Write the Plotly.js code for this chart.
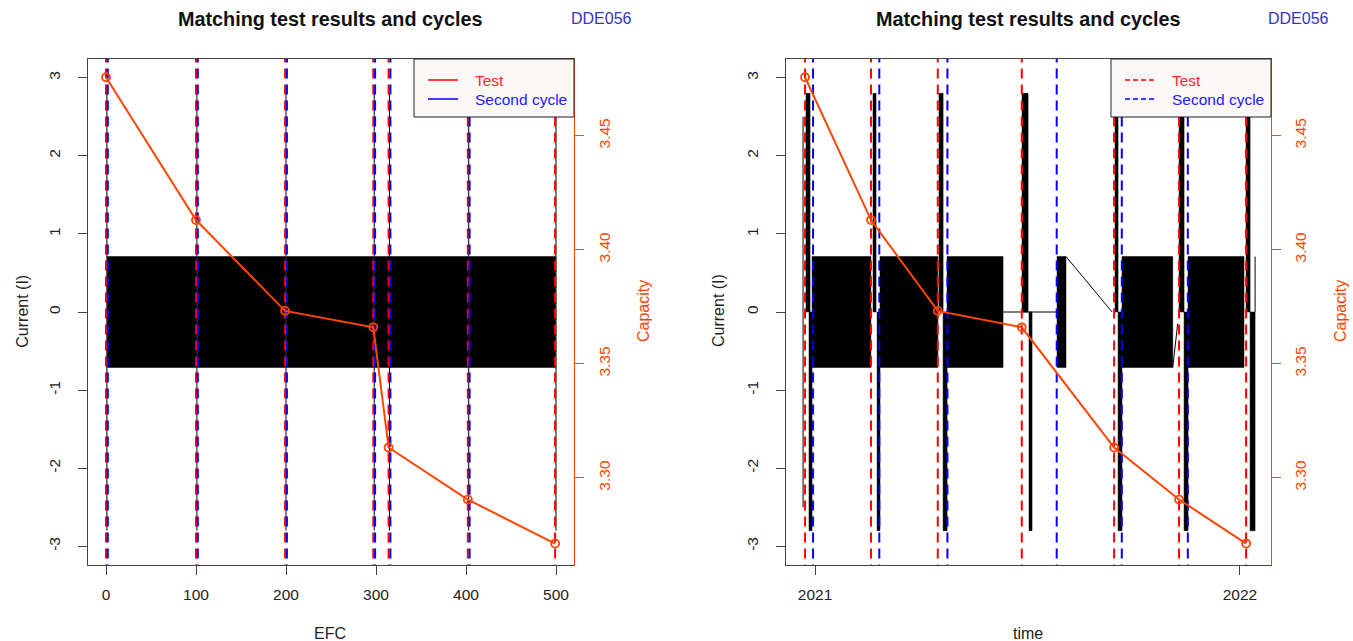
<!DOCTYPE html>
<html><head><meta charset="utf-8">
<script src="https://cdn.plot.ly/plotly-3.0.1.min.js"></script>
<style>html,body{margin:0;padding:0;background:#fff;} #chart{width:1353px;height:641px;}</style>
</head><body><div id="chart"></div>
<script>
// ---------------- data ----------------
const efcTicks = [0, 100, 200, 300, 400, 500];
const currentTicks = [-3, -2, -1, 0, 1, 2, 3];
const capTicks = [3.30, 3.35, 3.40, 3.45];
const capTickText = ['3.30', '3.35', '3.40', '3.45'];
const timeTicks = ['2021-01-01', '2022-01-01'];
const timeTickText = ['2021', '2022'];

const capacity = [3.4756, 3.4130, 3.3732, 3.3660, 3.3133, 3.2905, 3.2712];

// left panel: EFC domain
const testEFC = [0, 100, 199, 297, 314, 402, 499];
const secondEFC = [2, 102, 201, 299, 316, 404];
const pulseEFC = [1, 101, 200, 298, 315, 403, 500];
const cycleStartEFC = [1.5, 101.5, 200.5, 298.5, 315.5, 403.5];
const cycleEndEFC = [100.5, 199.5, 297.5, 314.5, 402.5, 499.5];
const cycleAmp = 0.71;
const pulseAmp = 2.8;

// right panel: time domain
const testDate = ['2020-12-23 10:00', '2021-02-18 02:00', '2021-04-16 10:00', '2021-06-27 14:00', '2021-09-14 22:00', '2021-11-09 17:00', '2022-01-06 07:00'];
const secondDate = ['2020-12-30 07:00', '2021-02-25 05:00', '2021-04-24 17:00', '2021-07-27 14:00', '2021-09-21 12:00', '2021-11-17 05:00'];
const cycleStartDate = ['2020-12-29 10:00', '2021-02-25 19:00', '2021-04-24 10:00', '2021-07-27 22:00', '2021-09-21 17:00', '2021-11-17 10:00'];
const cycleEndDate = ['2021-02-18 00:00', '2021-04-16 12:00', '2021-06-11 12:00', '2021-08-04 14:00', '2021-11-04 07:00', '2022-01-04 12:00'];
const chargeStartDate = ['2020-12-24 06:00', '2021-02-19 19:00', '2021-04-17 12:00', '2021-06-27 19:00', '2021-09-15 17:00', '2021-11-09 17:00', '2022-01-06 07:00'];
const chargeEndDate = ['2020-12-27 17:00', '2021-02-22 10:00', '2021-04-21 00:00', '2021-07-03 00:00', '2021-09-18 07:00', '2021-11-14 00:00', '2022-01-09 17:00'];
const dischargeStartDate = ['2020-12-26 20:00', '2021-02-23 07:00', '2021-04-21 00:00', '2021-07-03 19:00', '2021-09-18 07:00', '2021-11-14 00:00', '2022-01-09 17:00'];
const dischargeEndDate = ['2020-12-29 10:00', '2021-02-25 19:00', '2021-04-24 10:00', '2021-07-06 10:00', '2021-09-21 17:00', '2021-11-17 10:00', '2022-01-14 00:00'];
// thin current segments (rest periods and transitions)
const restDate = ['2021-06-11 12:00', '2021-07-27 22:00', null, '2021-08-04 14:00', '2021-09-13 05:00', null, '2020-12-21 17:00', '2020-12-21 17:00', null, '2022-01-14 00:00', '2022-01-14 00:00', null, '2021-11-04 07:00', '2021-11-08 12:00'];
const restCurrent = [0, 0, null, 0.71, 0, null, 2.5, -2.5, null, 0, 0.71, null, -0.71, -0.15];

// ---------------- helpers ----------------
const W = 1353, H = 641;
const px = v => v / W, py = v => 1 - v / H;
function rectPath(starts, ends, lo, hi) {
  const x = [], y = [];
  starts.forEach((s, i) => {
    const e = ends[i];
    x.push(s, e, e, s, s, null);
    y.push(lo, lo, hi, hi, lo, null);
  });
  return {x, y};
}
function vlines(xs, y0, y1) {
  const x = [], y = [];
  xs.forEach(v => { x.push(v, v, null); y.push(y0, y1, null); });
  return {x, y};
}
const RED = '#FF0000', BLUE = '#0000FF', ORANGE = '#FF4500';
const DASH = '10px,6px';

function panelTraces(xa, ya, yc, blocks, extra, tests, seconds) {
  const tr = [];
  tr.push(Object.assign({type: 'scatter', mode: 'lines', fill: 'toself', fillcolor: '#000',
    line: {color: '#000', width: 0.5}, xaxis: xa, yaxis: ya, hoverinfo: 'skip'}, blocks));
  extra.forEach(e => tr.push(Object.assign({type: 'scatter', mode: 'lines', xaxis: xa, yaxis: ya,
    hoverinfo: 'skip'}, e)));
  const r = vlines(tests, -5, 5);
  tr.push({type: 'scatter', mode: 'lines', x: r.x, y: r.y, xaxis: xa, yaxis: ya,
    line: {color: RED, width: 2, dash: DASH}, hoverinfo: 'skip'});
  const b = vlines(seconds, -5, 5);
  tr.push({type: 'scatter', mode: 'lines', x: b.x, y: b.y, xaxis: xa, yaxis: ya,
    line: {color: BLUE, width: 2, dash: DASH}, hoverinfo: 'skip'});
  tr.push({type: 'scatter', mode: 'lines+markers', x: tests, y: capacity, xaxis: xa, yaxis: yc,
    line: {color: ORANGE, width: 2}, marker: {symbol: 'circle-open', size: 8, color: ORANGE, line: {width: 1.8, color: ORANGE}}});
  return tr;
}

const leftBlocks = rectPath(cycleStartEFC, cycleEndEFC, -cycleAmp, cycleAmp);
const leftPulses = vlines(pulseEFC, -pulseAmp, pulseAmp);
const traces = panelTraces('x', 'y', 'y2', leftBlocks,
  [Object.assign({line: {color: '#000', width: 1}}, leftPulses)], testEFC, secondEFC);

const rightBlocks = rectPath(cycleStartDate, cycleEndDate, -cycleAmp, cycleAmp);
const chg = rectPath(chargeStartDate, chargeEndDate, 0, pulseAmp);
const dch = rectPath(dischargeStartDate, dischargeEndDate, -pulseAmp, 0);
traces.push(...panelTraces('x2', 'y3', 'y4', rightBlocks, [
  Object.assign({fill: 'toself', fillcolor: '#000', line: {color: '#000', width: 0.5}}, chg),
  Object.assign({fill: 'toself', fillcolor: '#000', line: {color: '#000', width: 0.5}}, dch),
  {x: restDate, y: restCurrent, line: {color: '#000', width: 1}}
], testDate, secondDate));

// ---------------- layout ----------------
const FONT = 'Liberation Sans, Arial, sans-serif';
const yDom = [py(565), py(59)];
const axBase = {showgrid: false, zeroline: false, showline: true, linecolor: '#444', linewidth: 1,
  ticks: 'outside', ticklen: 9, tickcolor: '#444', tickwidth: 1,
  tickfont: {family: FONT, size: 15.5, color: '#222'}, fixedrange: true};
const capAx = Object.assign({}, axBase, {side: 'right', range: [3.2618, 3.4836], tickvals: capTicks,
  ticktext: capTickText, tickangle: -90, linecolor: ORANGE, tickcolor: ORANGE,
  tickfont: {family: FONT, size: 15.5, color: ORANGE}, ticklabelstandoff: 7});
const curAx = Object.assign({}, axBase, {domain: yDom, range: [-3.24, 3.24], tickvals: currentTicks,
  ticktext: currentTicks.map(String), tickangle: -90, ticklabelstandoff: 12});

const layout = {
  width: W, height: H, margin: {l: 0, r: 0, t: 0, b: 0, pad: 0},
  paper_bgcolor: '#fff', plot_bgcolor: '#fff', showlegend: false,
  font: {family: FONT, color: '#222'},
  xaxis: Object.assign({}, axBase, {domain: [px(88), px(574)], range: [-20, 520], tickvals: efcTicks,
    ticktext: efcTicks.map(String), anchor: 'y', mirror: true, ticklabelstandoff: 6}),
  yaxis: Object.assign({}, curAx, {anchor: 'x'}),
  yaxis2: Object.assign({}, capAx, {overlaying: 'y', anchor: 'x'}),
  xaxis2: Object.assign({}, axBase, {type: 'date', domain: [px(785.7), px(1270.7)],
    range: ['2020-12-06 19:00', '2022-01-27 10:00'], tickvals: timeTicks, ticktext: timeTickText,
    anchor: 'y3', mirror: true, ticklabelstandoff: 6}),
  yaxis3: Object.assign({}, curAx, {anchor: 'x2'}),
  yaxis4: Object.assign({}, capAx, {overlaying: 'y3', anchor: 'x2'}),
  shapes: [], annotations: []
};

function ann(text, x, y, opts) {
  layout.annotations.push(Object.assign({text, x: px(x), y: py(y), xref: 'paper', yref: 'paper',
    showarrow: false, xanchor: 'center', yanchor: 'middle',
    font: {family: FONT, size: 16, color: '#222'}}, opts || {}));
}
function legend(x0, dash) {
  layout.shapes.push({type: 'rect', xref: 'paper', yref: 'paper', x0: px(x0), x1: px(x0 + 160),
    y0: py(117), y1: py(59), line: {color: '#222', width: 1}, fillcolor: '#FDF8F8', layer: 'above'});
  layout.shapes.push({type: 'line', xref: 'paper', yref: 'paper', x0: px(x0 + 14), x1: px(x0 + 44),
    y0: py(80), y1: py(80), line: {color: RED, width: 1.5, dash: dash}});
  layout.shapes.push({type: 'line', xref: 'paper', yref: 'paper', x0: px(x0 + 14), x1: px(x0 + 44),
    y0: py(99), y1: py(99), line: {color: BLUE, width: 1.5, dash: dash}});
  ann('Test', x0 + 59, 80, {xanchor: 'left', font: {family: FONT, size: 15.5, color: '#FF2A2A'}});
  ann('Second cycle', x0 + 59, 99, {xanchor: 'left', font: {family: FONT, size: 15.5, color: '#2020FF'}});
}

[[330, 601, 21.7, 643, 'EFC'], [1028, 1298, 718, 1340, 'time']].forEach(([cx, dx, lx, rx, xt]) => {
  ann('<b>Matching test results and cycles</b>', cx, 19, {font: {family: FONT, size: 19.8, color: '#111'}});
  ann('DDE056', dx, 18, {font: {family: FONT, size: 16, color: '#3535C0'}});
  ann('Current (I)', lx, 311, {textangle: -90});
  ann('Capacity', rx, 311, {textangle: -90, font: {family: FONT, size: 16, color: ORANGE}});
  ann(xt, cx, 633);
});
legend(414, 'solid');
legend(1111, '5px,3px');

Plotly.newPlot('chart', traces, layout, {displayModeBar: false, staticPlot: true});
</script></body></html>
